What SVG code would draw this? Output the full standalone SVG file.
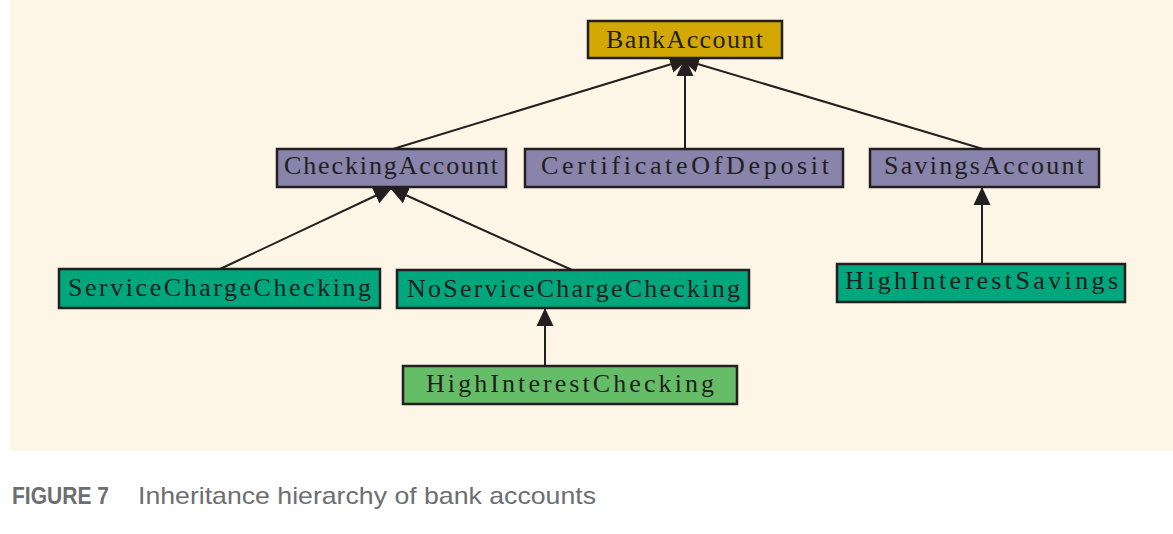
<svg xmlns="http://www.w3.org/2000/svg" width="1173" height="534" viewBox="0 0 1173 534">
<style>
.box{stroke:#231f20;stroke-width:2.5}
.gold{fill:#d3a802}
.purple{fill:#8884ab}
.teal{fill:#00a67c}
.lgreen{fill:#65bd67}
.lbl{font-family:"Liberation Serif","DejaVu Serif",serif;font-size:26px;fill:#231f20}
.conn{stroke:#231f20;stroke-width:2;fill:none;marker-end:url(#tri)}
.cap{font-family:"Liberation Sans Narrow","Liberation Sans",Arial,sans-serif;font-size:24px;fill:#6d6e71}
</style>
<defs>
<marker id="tri" markerUnits="userSpaceOnUse" markerWidth="20" markerHeight="20" viewBox="0 0 20 20" refX="18" refY="9" orient="auto">
<path d="M0,0.5 L18,9 L0,17.5 z" fill="#231f20"/>
</marker>
</defs>
<rect x="0" y="0" width="1173" height="534" fill="#ffffff"/>
<rect x="10" y="0" width="1163" height="451" fill="#fdf5e5"/>
<g id="connectors">
<line class="conn" x1="393" y1="149" x2="688" y2="59"/>
<line class="conn" x1="685" y1="149" x2="685" y2="58"/>
<line class="conn" x1="983" y1="149" x2="681" y2="59"/>
<line class="conn" x1="220" y1="269" x2="392" y2="188"/>
<line class="conn" x1="572" y1="270" x2="390" y2="188"/>
<line class="conn" x1="545" y1="366" x2="545" y2="308"/>
<line class="conn" x1="982" y1="264" x2="982" y2="187"/>
</g>
<g id="BankAccount">
<rect class="box gold" x="588" y="21" width="194" height="37"/>
<text class="lbl" x="606" y="48" textLength="157" lengthAdjust="spacing">BankAccount</text>
</g>
<g id="CheckingAccount">
<rect class="box purple" x="277" y="149" width="229" height="38"/>
<text class="lbl" x="284" y="174" textLength="214" lengthAdjust="spacing">CheckingAccount</text>
</g>
<g id="CertificateOfDeposit">
<rect class="box purple" x="525" y="149" width="318" height="38"/>
<text class="lbl" x="541" y="174" textLength="288" lengthAdjust="spacing">CertificateOfDeposit</text>
</g>
<g id="SavingsAccount">
<rect class="box purple" x="870" y="149" width="229" height="38"/>
<text class="lbl" x="884" y="174" textLength="200" lengthAdjust="spacing">SavingsAccount</text>
</g>
<g id="ServiceChargeChecking">
<rect class="box teal" x="59" y="269" width="321" height="39"/>
<text class="lbl" x="68" y="296" textLength="303" lengthAdjust="spacing">ServiceChargeChecking</text>
</g>
<g id="NoServiceChargeChecking">
<rect class="box teal" x="397" y="270" width="352" height="38"/>
<text class="lbl" x="407" y="297" textLength="333" lengthAdjust="spacing">NoServiceChargeChecking</text>
</g>
<g id="HighInterestChecking">
<rect class="box lgreen" x="403" y="366" width="334" height="38"/>
<text class="lbl" x="426" y="392" textLength="288" lengthAdjust="spacing">HighInterestChecking</text>
</g>
<g id="HighInterestSavings">
<rect class="box teal" x="837" y="264" width="288" height="38"/>
<text class="lbl" x="845" y="289" textLength="273" lengthAdjust="spacing">HighInterestSavings</text>
</g>
<g id="caption">
<text class="cap" x="12" y="504" font-weight="bold" font-size="24" textLength="97" lengthAdjust="spacingAndGlyphs">FIGURE 7</text>
<text class="cap" x="138" y="504" textLength="458" lengthAdjust="spacingAndGlyphs">Inheritance hierarchy of bank accounts</text>
</g>
</svg>
